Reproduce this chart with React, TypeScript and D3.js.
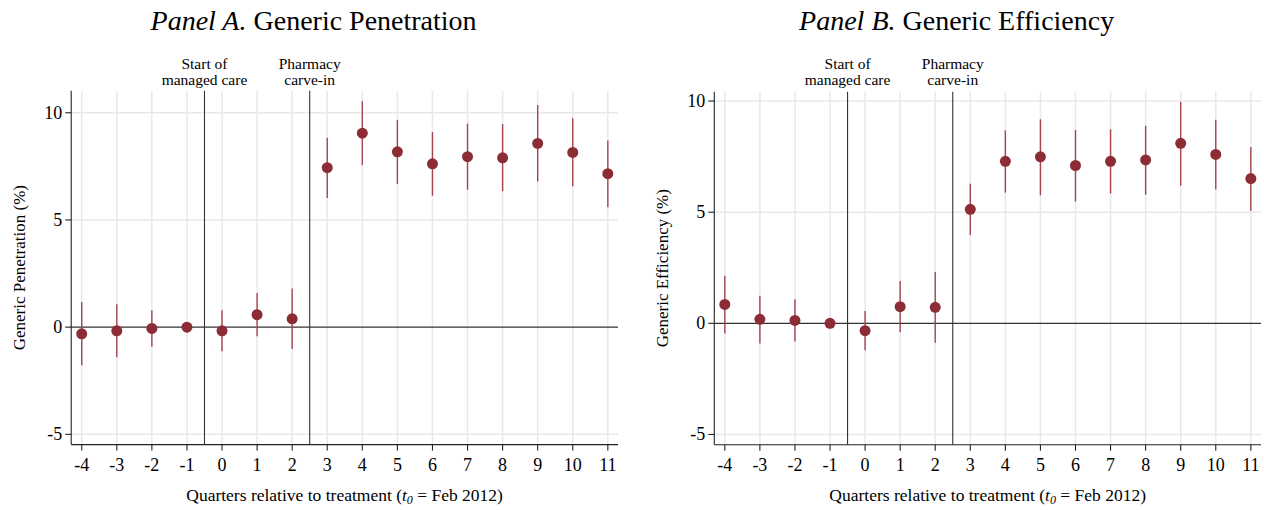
import React from 'react';
import * as d3 from 'd3';

// quarters relative to treatment
const quarters = [-4, -3, -2, -1, 0, 1, 2, 3, 4, 5, 6, 7, 8, 9, 10, 11];

// Panel A - generic penetration (%)
const penEst = [-0.31, -0.17, -0.06, 0, -0.17, 0.58, 0.39, 7.44, 9.05, 8.18, 7.62, 7.95, 7.90, 8.57, 8.15, 7.16];
const penLo = [-1.78, -1.40, -0.91, 0, -1.13, -0.43, -1.02, 6.02, 7.56, 6.68, 6.13, 6.41, 6.34, 6.80, 6.57, 5.59];
const penHi = [1.17, 1.07, 0.79, 0, 0.79, 1.59, 1.80, 8.84, 10.54, 9.66, 9.10, 9.49, 9.47, 10.36, 9.74, 8.71];

// Panel B - generic efficiency (%)
const effEst = [0.85, 0.18, 0.13, 0, -0.33, 0.75, 0.72, 5.13, 7.29, 7.49, 7.10, 7.29, 7.35, 8.10, 7.60, 6.51];
const effLo = [-0.46, -0.91, -0.82, 0, -1.21, -0.40, -0.87, 3.97, 5.88, 5.76, 5.48, 5.84, 5.79, 6.20, 6.02, 5.06];
const effHi = [2.14, 1.24, 1.08, 0, 0.55, 1.90, 2.31, 6.28, 8.68, 9.18, 8.70, 8.73, 8.89, 9.96, 9.16, 7.93];

const yTicks = [-5, 0, 5, 10];
const eventLines = [-0.5, 2.5];
const eventLabels = [['Start of', 'managed care'], ['Pharmacy', 'carve-in']];

const serif = 'Liberation Serif, serif';
const dotColor = '#8c2d36';
const barColor = '#a4454f';

interface PanelProps {
  left: number;
  right: number;
  top: number;
  bottom: number;
  yMin: number;
  yMax: number;
  panel: string;
  title: string;
  yTitle: string;
  est: number[];
  lo: number[];
  hi: number[];
}

const Panel: React.FC<PanelProps> = ({ left, right, top, bottom, yMin, yMax, panel, title, yTitle, est, lo, hi }) => {
  const x = d3.scaleLinear().domain([-4.3, 11.29]).range([left, right]);
  const y = d3.scaleLinear().domain([yMin, yMax]).range([bottom, top]);
  const cx = (left + right) / 2;

  return (
    <g>
      {/* title */}
      <text x={cx - 31} y={30} textAnchor="middle" fontFamily={serif} fontSize={28}>
        <tspan fontStyle="italic">{panel}</tspan> {title}
      </text>

      {/* grid */}
      {quarters.map(q => (
        <line key={'gx' + q} x1={x(q)} x2={x(q)} y1={top} y2={bottom} stroke="#e8e8e8" strokeWidth={1.5} />
      ))}
      {yTicks.filter(t => t !== 0).map(t => (
        <line key={'gy' + t} x1={left} x2={right} y1={y(t)} y2={y(t)} stroke="#e8e8e8" strokeWidth={1.5} />
      ))}

      {/* zero line and event lines */}
      <line x1={left} x2={right} y1={y(0)} y2={y(0)} stroke="#333" strokeWidth={1.1} />
      {eventLines.map((e, i) => (
        <g key={'ev' + i}>
          <line x1={x(e)} x2={x(e)} y1={top} y2={bottom} stroke="#333" strokeWidth={1.1} />
          <text x={x(e)} y={68.5} textAnchor="middle" fontFamily={serif} fontSize={15.5}>{eventLabels[i][0]}</text>
          <text x={x(e)} y={85} textAnchor="middle" fontFamily={serif} fontSize={15.5}>{eventLabels[i][1]}</text>
        </g>
      ))}

      {/* confidence intervals */}
      {quarters.map((q, i) => (
        <line key={'ci' + q} x1={x(q)} x2={x(q)} y1={y(lo[i])} y2={y(hi[i])} stroke={barColor} strokeWidth={1.4} />
      ))}
      {/* point estimates */}
      {quarters.map((q, i) => (
        <circle key={'pt' + q} cx={x(q)} cy={y(est[i])} r={5.5} fill={dotColor} />
      ))}

      {/* axes */}
      <line x1={left} x2={left} y1={top} y2={bottom} stroke="#222" strokeWidth={1.1} />
      <line x1={left} x2={right} y1={bottom} y2={bottom} stroke="#222" strokeWidth={1.1} />
      {yTicks.map(t => (
        <g key={'yt' + t}>
          <line x1={left - 6} x2={left} y1={y(t)} y2={y(t)} stroke="#222" strokeWidth={1.1} />
          <text x={left - 9} y={y(t) + 6} textAnchor="end" fontFamily={serif} fontSize={18}>{t}</text>
        </g>
      ))}
      {quarters.map(q => (
        <g key={'xt' + q}>
          <line x1={x(q)} x2={x(q)} y1={bottom} y2={bottom + 6} stroke="#222" strokeWidth={1.1} />
          <text x={x(q)} y={bottom + 26} textAnchor="middle" fontFamily={serif} fontSize={18}>{q}</text>
        </g>
      ))}

      {/* axis titles */}
      <text x={cx} y={501} textAnchor="middle" fontFamily={serif} fontSize={17.5}>
        Quarters relative to treatment (<tspan fontStyle="italic">t</tspan>
        <tspan fontStyle="italic" fontSize={12} dy={3}>0</tspan>
        <tspan dy={-3}> = Feb 2012)</tspan>
      </text>
      <text transform={`translate(${left - 46},${(top + bottom) / 2}) rotate(-90)`} textAnchor="middle" fontFamily={serif} fontSize={17}>
        {yTitle}
      </text>
    </g>
  );
};

export default function App() {
  return (
    <svg width={1264} height={510} style={{ position: 'absolute', left: 0, top: 0, background: '#fff' }}>
      <rect width={1264} height={510} fill="#fff" />
      <Panel left={71.2} right={618} top={90.7} bottom={444.6} yMin={-5.48} yMax={11.03}
        panel="Panel A." title="Generic Penetration" yTitle="Generic Penetration (%)"
        est={penEst} lo={penLo} hi={penHi} />
      <Panel left={714.3} right={1261} top={91.7} bottom={444.7} yMin={-5.46} yMax={10.42}
        panel="Panel B." title="Generic Efficiency" yTitle="Generic Efficiency (%)"
        est={effEst} lo={effLo} hi={effHi} />
    </svg>
  );
}
